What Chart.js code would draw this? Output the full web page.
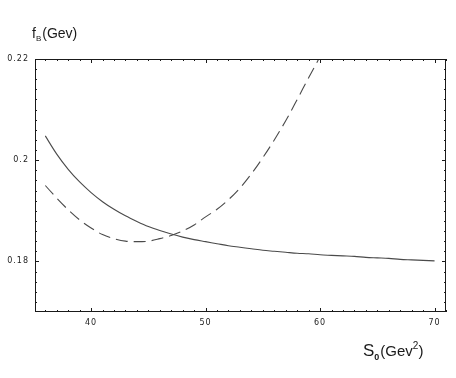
<!DOCTYPE html>
<html>
<head>
<meta charset="utf-8">
<script src="https://cdn.jsdelivr.net/npm/chart.js@4.4.0/dist/chart.umd.min.js"></script>
<style>
  body { margin: 0; background: #fff; }
</style>
</head>
<body>
<canvas id="fbchart" width="456" height="378"></canvas>
<script>
// S0 (Gev^2) and fB (Gev)
const s0Solid = [36,37,38,39,40,41,42,43,44,45,46,47,48,49,50,51,52,53,54,55,56,57,58,59,60,61,62,63,64,65,66,67,68,69,70];
const fbSolid = [0.2048,0.2012,0.1982,0.1957,0.1936,0.1918,0.1903,0.1890,0.1879,0.1869,0.1861,0.1854,0.1848,0.1843,0.1839,0.1835,0.1831,0.1828,0.1825,0.1822,0.1820,0.1818,0.1816,0.1815,0.1813,0.1812,0.1811,0.1810,0.1808,0.1807,0.1806,0.1804,0.1803,0.1802,0.1801];

const s0Dashed = [36,37,38,39,40,41,42,43,44,45,46,47,48,49,50,51,52,53,54,55,56,57,58,59,60,61];
const fbDashed = [0.1950,0.1925,0.1902,0.1882,0.1866,0.1853,0.1845,0.1840,0.1839,0.1840,0.1845,0.1851,0.1860,0.1872,0.1888,0.1903,0.1922,0.1945,0.1973,0.2005,0.2040,0.2078,0.2120,0.2163,0.2205,0.2250];

const xTickValues = [40, 50, 60, 70];
const yTickValues = [0.18, 0.2, 0.22];

const ink = '#1a1a1a';

// wider letter spacing for the tick labels only
const spacingPlugin = {
  id: 'spacing',
  beforeDraw(chart) { chart.ctx.letterSpacing = '1px'; },
  beforeDatasetsDraw(chart) { chart.ctx.letterSpacing = '0px'; }
};

// Mathematica style frame with inward ticks on all four sides
const framePlugin = {
  id: 'frame',
  afterDatasetsDraw(chart) {
    const { ctx, chartArea: a, scales: { x, y } } = chart;
    ctx.save();
    ctx.strokeStyle = ink;
    ctx.lineWidth = 1;
    ctx.strokeRect(a.left + 0.5, a.top + 0.5, a.right - a.left - 1, a.bottom - a.top - 1);
    ctx.beginPath();
    for (let v = 36; v <= 71; v++) {
      const px = Math.round(x.getPixelForValue(v)) + 0.5;
      const len = v % 10 === 0 ? 4 : 2;
      ctx.moveTo(px, a.bottom); ctx.lineTo(px, a.bottom - len);
      ctx.moveTo(px, a.top); ctx.lineTo(px, a.top + len);
    }
    for (let i = 1; i < 25; i++) {
      const py = Math.round(y.getPixelForValue(0.17 + i * 0.002)) + 0.5;
      const len = i % 10 === 5 ? 4 : 2;
      ctx.moveTo(a.left, py); ctx.lineTo(a.left + len, py);
      ctx.moveTo(a.right, py); ctx.lineTo(a.right - len, py);
    }
    ctx.stroke();
    ctx.restore();
  }
};

// axis titles with sub/superscripts
const titlePlugin = {
  id: 'titles',
  afterDraw(chart) {
    const ctx = chart.ctx;
    ctx.save();
    ctx.fillStyle = ink;
    ctx.textBaseline = 'alphabetic';
    ctx.textAlign = 'left';

    let cx = 32;
    ctx.font = '14px "Liberation Sans", Arial, sans-serif';
    ctx.fillText('f', cx, 38);
    cx += ctx.measureText('f').width;
    ctx.font = '8px "Liberation Sans", Arial, sans-serif';
    ctx.fillText('B', cx, 41);
    cx += ctx.measureText('B').width + 1;
    ctx.font = '14px "Liberation Sans", Arial, sans-serif';
    ctx.fillText('(Gev)', cx, 38);

    cx = 363;
    ctx.font = '17px "Liberation Sans", Arial, sans-serif';
    ctx.fillText('S', cx, 356);
    cx += ctx.measureText('S').width;
    ctx.font = 'bold 9px "Liberation Sans", Arial, sans-serif';
    ctx.fillText('0', cx, 360);
    cx += ctx.measureText('0').width + 1;
    ctx.font = '15px "Liberation Sans", Arial, sans-serif';
    ctx.fillText('(Gev', cx, 356);
    cx += ctx.measureText('(Gev').width;
    ctx.font = '10px "Liberation Sans", Arial, sans-serif';
    ctx.fillText('2', cx, 349);
    cx += ctx.measureText('2').width;
    ctx.font = '15px "Liberation Sans", Arial, sans-serif';
    ctx.fillText(')', cx, 356);
    ctx.restore();
  }
};

const tickFont = { family: '"DejaVu Sans", sans-serif', size: 8 };

new Chart(document.getElementById('fbchart'), {
  type: 'line',
  data: {
    datasets: [
      {
        label: 'solid',
        data: s0Solid.map((s, i) => ({ x: s, y: fbSolid[i] })),
        borderColor: '#4a4a4a',
        borderWidth: 1.1,
        pointRadius: 0,
        cubicInterpolationMode: 'monotone'
      },
      {
        label: 'dashed',
        data: s0Dashed.map((s, i) => ({ x: s, y: fbDashed[i] })),
        borderColor: '#4a4a4a',
        borderWidth: 1.1,
        borderDash: [12, 6],
        pointRadius: 0,
        cubicInterpolationMode: 'monotone'
      }
    ]
  },
  options: {
    responsive: false,
    animation: false,
    layout: { padding: { top: 59, right: 10, left: 0, bottom: 0 } },
    plugins: { legend: { display: false }, tooltip: { enabled: false } },
    scales: {
      x: {
        type: 'linear',
        min: 35.1,
        max: 71,
        grid: { display: false, drawTicks: false },
        border: { display: false },
        afterBuildTicks(s) { s.ticks = xTickValues.map(v => ({ value: v })); },
        afterFit(s) { s.height = 66; },
        ticks: { font: tickFont, color: '#222', padding: 6, maxRotation: 0, callback: v => String(v) }
      },
      y: {
        min: 0.17,
        max: 0.22,
        grid: { display: false, drawTicks: false },
        border: { display: false },
        afterBuildTicks(s) { s.ticks = yTickValues.map(v => ({ value: v })); },
        afterFit(s) { s.width = 35; },
        ticks: { font: tickFont, color: '#222', padding: 6, callback: v => String(+v.toFixed(2)) }
      }
    }
  },
  plugins: [spacingPlugin, framePlugin, titlePlugin]
});
</script>
</body>
</html>
